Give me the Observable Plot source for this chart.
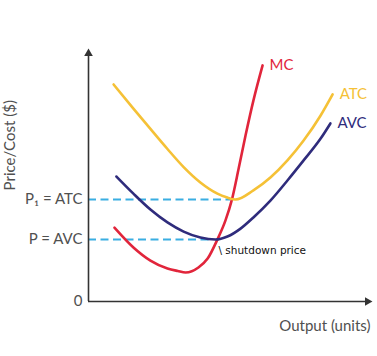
<!DOCTYPE html>
<html><head><meta charset="utf-8">
<script src="https://cdn.jsdelivr.net/npm/d3@7"></script>
<script src="https://cdn.jsdelivr.net/npm/@observablehq/plot@0.6"></script>
<style>body{margin:0;background:#fff;}</style>
</head><body><div id="chart"></div>
<script>
// Curves (output units, price)
const qATC = [0.90, 1.61, 2.22, 2.83, 3.41, 4.01, 4.62, 4.95, 5.27, 5.91, 6.52, 7.13, 7.71, 8.32, 8.75];
const vATC = [8.75, 7.78, 6.96, 6.15, 5.42, 4.80, 4.35, 4.20, 4.11, 4.48, 5.00, 5.69, 6.49, 7.50, 8.35];
const qAVC = [1.00, 1.61, 2.22, 2.83, 3.41, 4.01, 4.55, 4.98, 5.45, 5.91, 6.52, 7.13, 7.71, 8.32, 8.67];
const vAVC = [5.04, 4.35, 3.71, 3.19, 2.82, 2.58, 2.50, 2.62, 2.94, 3.39, 4.07, 4.88, 5.69, 6.57, 7.18];
const qMC = [0.93, 1.61, 2.22, 2.83, 3.20, 3.48, 3.94, 4.27, 4.62, 4.91, 5.14, 5.38, 5.63, 5.91, 6.24];
const vMC = [2.98, 2.18, 1.65, 1.33, 1.23, 1.17, 1.37, 1.73, 2.50, 3.27, 4.11, 5.35, 6.70, 8.10, 9.52];
const seriesNames = ["MC", "ATC", "AVC"];
const seriesColors = ["#e1253b", "#f5c136", "#2f2c7c"];
// Price levels
const priceLabels = ["0", "P = AVC", "P\u2081 = ATC"];
const priceValues = [0, 2.5, 4.11];
const priceEndQ = [null, 4.48, 5.09];
const shutdownLabel = "\\ shutdown price";
const xTitle = "Output (units)";
const yTitle = "Price/Cost ($)";

const series = {MC: [qMC, vMC], ATC: [qATC, vATC], AVC: [qAVC, vAVC]};
const rows = seriesNames.flatMap(n => series[n][0].map((q, i) => ({name: n, q, v: series[n][1][i]})));
const ends = seriesNames.map(n => ({name: n, q: series[n][0].at(-1), v: series[n][1].at(-1)}));
const dashes = priceValues.map((v, i) => ({v, q: priceEndQ[i]})).filter(d => d.q != null);
const avcMinIdx = vAVC.indexOf(Math.min(...vAVC));
const shutdown = [{q: qAVC[avcMinIdx], v: vAVC[avcMinIdx]}];
const font = "Lato, 'Open Sans', sans-serif";
const gray = "#505050";
const xMax = 10, yMax = 10;
const yTitleCenter = 6.3;

const plot = Plot.plot({
  width: 377, height: 356,
  marginLeft: 88, marginRight: 10, marginTop: 53, marginBottom: 55,
  style: {fontFamily: font, background: "#fff"},
  x: {domain: [0, xMax], axis: null},
  y: {domain: [0, yMax], axis: null},
  color: {domain: seriesNames, range: seriesColors},
  marks: [
    Plot.axisY({ticks: priceValues, tickFormat: (d) => priceLabels[priceValues.indexOf(d)], tickSize: 0, tickPadding: 6, fontSize: 15, color: gray, label: null}),
    Plot.ruleY(dashes, {y: "v", x1: 0, x2: "q", stroke: "#3aaee2", strokeWidth: 2, strokeDasharray: "8,4.5"}),
    Plot.line(rows, {x: "q", y: "v", z: "name", stroke: "name", strokeWidth: 2.6, curve: "monotone-x"}),
    Plot.text(ends, {x: "q", y: "v", text: "name", fill: "name", textAnchor: "start", dx: 7, dy: 0, fontSize: 15}),
    Plot.ruleX([0], {y1: 0, y2: yMax, stroke: "#333", strokeWidth: 1.6}),
    Plot.ruleY([0], {x1: 0, x2: xMax, stroke: "#333", strokeWidth: 1.6}),
    Plot.dot([{x: 0, y: yMax, r: 0}, {x: xMax, y: 0, r: 90}], {x: "x", y: "y", rotate: "r", symbol: "triangle", r: 3.2, fill: "#333", stroke: null}),
    Plot.text(shutdown, {x: "q", y: "v", text: () => shutdownLabel, dx: 3, dy: 11, textAnchor: "start", fontSize: 10.5, fill: "#111", fontFamily: "'DejaVu Sans', sans-serif"}),
    Plot.text([xTitle], {x: () => xMax, y: () => 0, dx: 3, dy: 25, textAnchor: "end", fontSize: 15, fill: gray}),
    Plot.text([{t: yTitle, x: 0, y: yTitleCenter, r: -90}], {x: "x", y: "y", text: "t", rotate: "r", dx: -78, textAnchor: "middle", lineAnchor: "middle", fontSize: 15, fill: gray})
  ]
});
document.getElementById("chart").append(plot);
</script></body></html>
